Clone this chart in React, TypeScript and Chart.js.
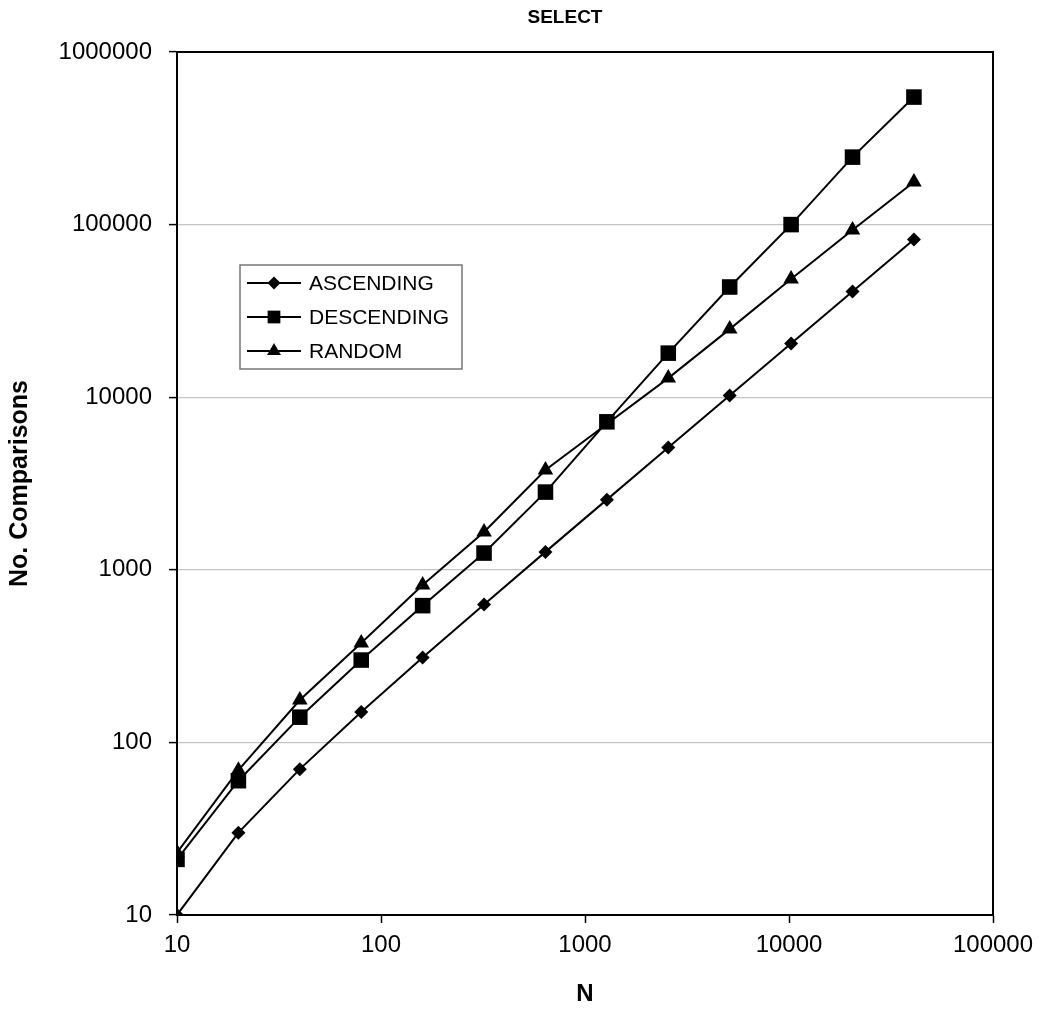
import React, { useEffect, useRef } from "react";
import Chart from "chart.js/auto";

const N_VALUES = [10, 20, 40, 80, 160, 320, 640, 1280, 2560, 5120, 10240, 20480, 40960];
const ASCENDING = [10, 30, 70, 150, 310, 630, 1270, 2550, 5110, 10230, 20470, 40950, 81910];
const DESCENDING = [21, 60, 140, 300, 620, 1250, 2820, 7200, 18000, 43500, 100000, 246000, 548000];
const RANDOM = [23, 69, 176, 377, 817, 1655, 3790, 7000, 12900, 24800, 48400, 93100, 176600];
const Y_TICKS = [10, 100, 1000, 10000, 100000, 1000000];
const X_TICKS = [10, 100, 1000, 10000, 100000];
const SERIES_LABELS = ["ASCENDING", "DESCENDING", "RANDOM"];
const SERIES_STYLES = ["rectRot", "rect", "triangle"];
const SERIES_RADII = [7, 11, 9];
const TITLE = "SELECT";
const X_TITLE = "N";
const Y_TITLE = "No. Comparisons";

const FONT = "'Liberation Sans', Arial, Helvetica, sans-serif";

function drawMarker(ctx: CanvasRenderingContext2D, style: string, x: number, y: number, r: number) {
  ctx.beginPath();
  if (style === "rectRot") {
    ctx.moveTo(x, y - r);
    ctx.lineTo(x + r, y);
    ctx.lineTo(x, y + r);
    ctx.lineTo(x - r, y);
    ctx.closePath();
  } else if (style === "rect") {
    const s = r * Math.SQRT1_2;
    ctx.rect(x - s, y - s, 2 * s, 2 * s);
  } else {
    const h = r * 1.5;
    const half = (r * Math.sqrt(3)) / 2;
    ctx.moveTo(x, y - r);
    ctx.lineTo(x + half, y - r + h);
    ctx.lineTo(x - half, y - r + h);
    ctx.closePath();
  }
  ctx.fill();
}

const frameAndLegend = {
  id: "frameAndLegend",
  afterDatasetsDraw(chart: any) {
    const { ctx, chartArea } = chart;
    ctx.save();
    ctx.strokeStyle = "#000";
    ctx.lineWidth = 2;
    ctx.strokeRect(chartArea.left, chartArea.top, chartArea.right - chartArea.left, chartArea.bottom - chartArea.top);

    // chart title
    ctx.fillStyle = "#000";
    ctx.font = `bold 19px ${FONT}`;
    ctx.textAlign = "center";
    ctx.textBaseline = "middle";
    ctx.fillText(TITLE, 565, 18);

    // legend box
    const bx = 240, by = 265, bw = 222, bh = 104;
    ctx.fillStyle = "#fff";
    ctx.fillRect(bx, by, bw, bh);
    ctx.strokeStyle = "#777";
    ctx.lineWidth = 1.5;
    ctx.strokeRect(bx, by, bw, bh);
    const rowY = [283, 317, 351];
    chart.data.datasets.forEach((ds: any, i: number) => {
      const y = rowY[i];
      ctx.strokeStyle = "#000";
      ctx.lineWidth = 2;
      ctx.beginPath();
      ctx.moveTo(247, y);
      ctx.lineTo(301, y);
      ctx.stroke();
      ctx.fillStyle = "#000";
      drawMarker(ctx, ds.pointStyle, 274, y, i === 0 ? 6.5 : i === 1 ? 9 : 8);
      ctx.font = `21px ${FONT}`;
      ctx.textBaseline = "middle";
      ctx.textAlign = "left";
      ctx.fillText(ds.label, 309, y + 1);
    });
    ctx.restore();
  },
};

export default function App() {
  const ref = useRef<HTMLCanvasElement | null>(null);
  useEffect(() => {
    if (!ref.current) return;
    const datasets = [ASCENDING, DESCENDING, RANDOM].map((vals, i) => ({
      label: SERIES_LABELS[i],
      data: N_VALUES.map((n, j) => ({ x: n, y: vals[j] })),
      borderColor: "#000",
      backgroundColor: "#000",
      borderWidth: 2,
      pointStyle: SERIES_STYLES[i],
      pointRadius: SERIES_RADII[i],
      pointBackgroundColor: "#000",
      pointBorderColor: "#000",
      pointBorderWidth: 0,
      tension: 0,
      fill: false,
    }));
    const chart = new Chart(ref.current, {
      type: "line",
      data: { datasets },
      plugins: [frameAndLegend],
      options: {
        animation: false,
        responsive: false,
        maintainAspectRatio: false,
        layout: { padding: { left: 0, right: 58, top: 52, bottom: 0 } },
        plugins: {
          legend: { display: false },
          tooltip: { enabled: false },
          title: { display: false },
        },
        scales: {
          x: {
            type: "logarithmic",
            min: 10,
            max: 100000,
            afterBuildTicks: (s: any) => {
              s.ticks = X_TICKS.map((v) => ({ value: v }));
            },
            afterFit: (s: any) => {
              s.height = 101;
            },
            ticks: {
              color: "#000",
              font: { family: FONT, size: 24 },
              padding: 8,
              maxRotation: 0,
              autoSkip: false,
              callback: (v: any) => String(v),
            },
            grid: { drawOnChartArea: false, tickLength: 8, tickColor: "#000", tickWidth: 1.5 },
            border: { color: "#000", width: 2 },
            title: {
              display: true,
              text: X_TITLE,
              color: "#000",
              font: { family: FONT, size: 24, weight: "bold" },
              padding: { top: 0, bottom: 7 },
            },
          },
          y: {
            type: "logarithmic",
            min: 10,
            max: 1000000,
            afterBuildTicks: (s: any) => {
              s.ticks = Y_TICKS.map((v) => ({ value: v }));
            },
            afterFit: (s: any) => {
              s.width = 177;
            },
            ticks: {
              color: "#000",
              font: { family: FONT, size: 24 },
              padding: 17,
              autoSkip: false,
              callback: (v: any) => String(v),
            },
            grid: { color: "#c4c4c4", lineWidth: 1.2, tickLength: 8, tickColor: "#000", tickWidth: 1.5 },
            border: { color: "#000", width: 2 },
            title: {
              display: true,
              text: Y_TITLE,
              color: "#000",
              font: { family: FONT, size: 25, weight: "bold" },
              padding: { top: 5, bottom: 0 },
            },
          },
        },
      },
    } as any);
    return () => chart.destroy();
  }, []);
  return (
    <div style={{ position: "fixed", left: 0, top: 0, width: 1051, height: 1016, background: "#fff" }}>
      <canvas ref={ref} width={1051} height={1016} style={{ display: "block", width: 1051, height: 1016 }} />
    </div>
  );
}
